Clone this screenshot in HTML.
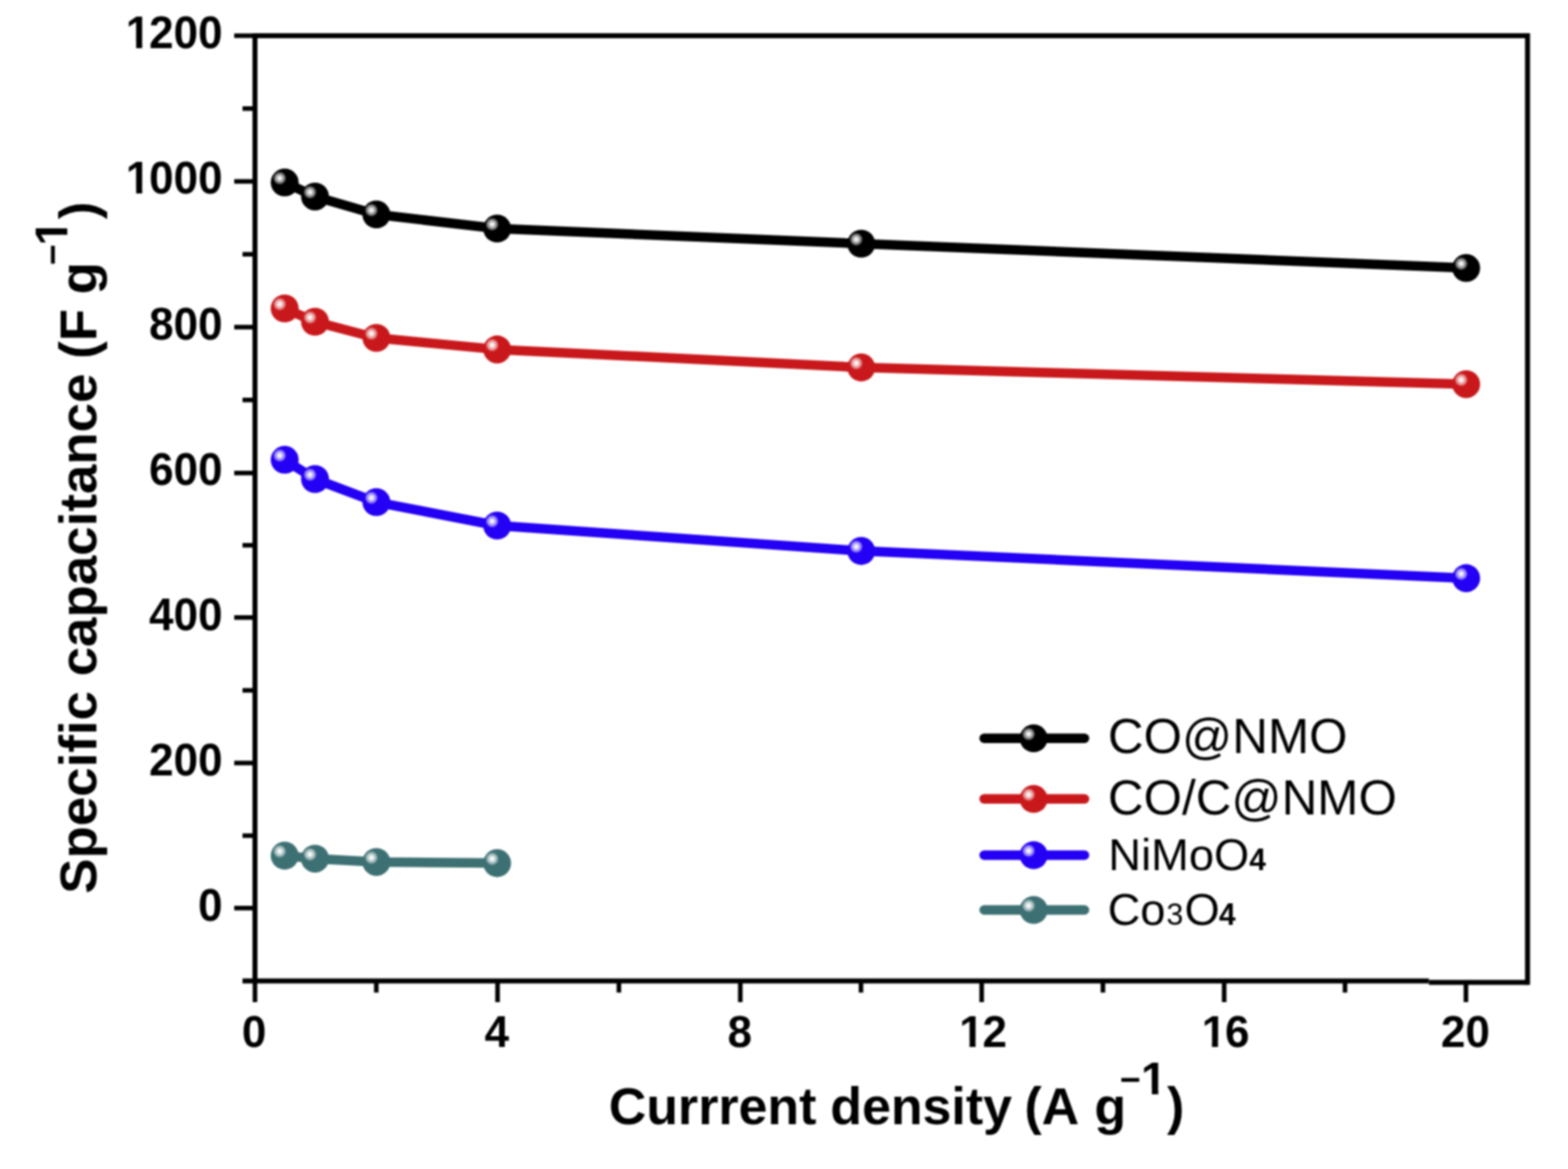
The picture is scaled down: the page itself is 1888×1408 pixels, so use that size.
<!DOCTYPE html><html><head><meta charset="utf-8"><title>Specific capacitance vs current density</title><style>html,body{margin:0;padding:0;background:#fff;width:1888px;height:1408px;overflow:hidden}svg{display:block;filter:blur(0.8px)}text{font-family:"Liberation Sans",Arial,sans-serif}</style></head><body>
<svg width="1888" height="1408" viewBox="0 0 1888 1408" xmlns="http://www.w3.org/2000/svg">
<defs>
<radialGradient id="hl"><stop offset="0" stop-color="#fff" stop-opacity="1"/><stop offset="0.25" stop-color="#fff" stop-opacity="0.92"/><stop offset="0.5" stop-color="#fff" stop-opacity="0.66"/><stop offset="0.78" stop-color="#fff" stop-opacity="0.42"/><stop offset="1" stop-color="#fff" stop-opacity="0"/></radialGradient>
</defs>
<rect width="1888" height="1408" fill="#fff"/>
<path d="M307.0 1181.6 V42.9 H1839.3 V1186.2" fill="none" stroke="#000" stroke-width="6" stroke-linejoin="miter"/>
<path d="M292 1181.6 H1720.5" stroke="#000" stroke-width="6"/>
<path d="M1720.5 1183.2 H1839.3" stroke="#000" stroke-width="6"/>
<path d="M282 1093.8H307.0 M292 1006.4H307.0 M282 919.0H307.0 M292 831.4H307.0 M282 743.8H307.0 M292 656.8H307.0 M282 569.7H307.0 M292 481.8H307.0 M282 393.9H307.0 M292 306.2H307.0 M282 218.5H307.0 M292 130.7H307.0 M282 42.9H307.0 M307.0 1181.6V1207 M453.1 1181.6V1195.5 M599.1 1181.6V1207 M745.2 1181.6V1195.5 M891.4 1181.6V1207 M1036.7 1181.6V1195.5 M1182.0 1181.6V1207 M1328.0 1181.6V1195.5 M1474.0 1181.6V1207 M1619.5 1181.6V1195.5 M1765.1 1183.2V1207" stroke="#000" stroke-width="5.5" fill="none"/>
<g transform="translate(0 -44.344) scale(1 1.04)"><text x="238.52" y="1108.60" font-size="53" font-weight="bold">0</text></g>
<g transform="translate(0 -37.352) scale(1 1.04)"><text x="179.57" y="933.80" font-size="53" font-weight="bold">200</text></g>
<g transform="translate(0 -30.344) scale(1 1.04)"><text x="179.57" y="758.60" font-size="53" font-weight="bold">400</text></g>
<g transform="translate(0 -23.380) scale(1 1.04)"><text x="179.57" y="584.50" font-size="53" font-weight="bold">600</text></g>
<g transform="translate(0 -16.348) scale(1 1.04)"><text x="179.57" y="408.70" font-size="53" font-weight="bold">800</text></g>
<g transform="translate(0 -9.332) scale(1 1.04)"><text x="151.60" y="233.30" font-size="53" font-weight="bold">1<tspan dx="-1.5">000</tspan></text><rect x="153.70" y="226.49" width="10.26" height="8.41" fill="#fff"/><rect x="171.24" y="226.49" width="9.16" height="8.41" fill="#fff"/></g>
<g transform="translate(0 -2.308) scale(1 1.04)"><text x="151.60" y="57.70" font-size="53" font-weight="bold">1<tspan dx="-1.5">200</tspan></text><rect x="153.70" y="50.89" width="10.26" height="8.41" fill="#fff"/><rect x="171.24" y="50.89" width="9.16" height="8.41" fill="#fff"/></g>
<text x="291.36" y="1261.00" font-size="53" font-weight="bold">0</text>
<text x="583.46" y="1261.00" font-size="53" font-weight="bold">4</text>
<text x="876.06" y="1261.00" font-size="53" font-weight="bold">8</text>
<text x="1155.02" y="1261.00" font-size="53" font-weight="bold">1<tspan dx="-1.5">2</tspan></text><rect x="1157.13" y="1254.19" width="10.26" height="8.41" fill="#fff"/><rect x="1174.67" y="1254.19" width="9.16" height="8.41" fill="#fff"/>
<text x="1446.92" y="1261.00" font-size="53" font-weight="bold">1<tspan dx="-1.5">6</tspan></text><rect x="1449.03" y="1254.19" width="10.26" height="8.41" fill="#fff"/><rect x="1466.57" y="1254.19" width="9.16" height="8.41" fill="#fff"/>
<text x="1735.12" y="1261.00" font-size="53" font-weight="bold">20</text>
<polyline points="342.8,219.8 379.3,236.7 453.2,258.3 598.6,275.3 1037.0,293.5 1765.4,322.8" fill="none" stroke="#000000" stroke-width="11.5" stroke-linejoin="round"/>
<circle cx="342.8" cy="219.8" r="16.8" fill="#000000"/><circle cx="336.8" cy="214.6" r="8" fill="url(#hl)" opacity="1.0"/>
<circle cx="379.3" cy="236.7" r="16.8" fill="#000000"/><circle cx="373.3" cy="231.5" r="8" fill="url(#hl)" opacity="1.0"/>
<circle cx="453.2" cy="258.3" r="16.8" fill="#000000"/><circle cx="447.2" cy="253.1" r="8" fill="url(#hl)" opacity="1.0"/>
<circle cx="598.6" cy="275.3" r="16.8" fill="#000000"/><circle cx="592.6" cy="270.1" r="8" fill="url(#hl)" opacity="1.0"/>
<circle cx="1037.0" cy="293.5" r="16.8" fill="#000000"/><circle cx="1031.0" cy="288.3" r="8" fill="url(#hl)" opacity="1.0"/>
<circle cx="1765.4" cy="322.8" r="16.8" fill="#000000"/><circle cx="1759.4" cy="317.6" r="8" fill="url(#hl)" opacity="1.0"/>
<polyline points="342.8,371.5 379.3,387.5 453.2,407.0 598.6,420.9 1037.0,442.6 1765.4,462.7" fill="none" stroke="#c9181b" stroke-width="11.5" stroke-linejoin="round"/>
<circle cx="342.8" cy="371.5" r="16.8" fill="#c9181b"/><circle cx="336.8" cy="366.3" r="8" fill="url(#hl)" opacity="1.0"/>
<circle cx="379.3" cy="387.5" r="16.8" fill="#c9181b"/><circle cx="373.3" cy="382.3" r="8" fill="url(#hl)" opacity="1.0"/>
<circle cx="453.2" cy="407.0" r="16.8" fill="#c9181b"/><circle cx="447.2" cy="401.8" r="8" fill="url(#hl)" opacity="1.0"/>
<circle cx="598.6" cy="420.9" r="16.8" fill="#c9181b"/><circle cx="592.6" cy="415.7" r="8" fill="url(#hl)" opacity="1.0"/>
<circle cx="1037.0" cy="442.6" r="16.8" fill="#c9181b"/><circle cx="1031.0" cy="437.4" r="8" fill="url(#hl)" opacity="1.0"/>
<circle cx="1765.4" cy="462.7" r="16.8" fill="#c9181b"/><circle cx="1759.4" cy="457.5" r="8" fill="url(#hl)" opacity="1.0"/>
<polyline points="342.8,553.8 379.3,577.0 453.2,604.8 598.6,633.0 1037.0,663.6 1765.4,696.4" fill="none" stroke="#2400f4" stroke-width="11.5" stroke-linejoin="round"/>
<circle cx="342.8" cy="553.8" r="16.8" fill="#2400f4"/><circle cx="336.8" cy="548.6" r="8" fill="url(#hl)" opacity="1.0"/>
<circle cx="379.3" cy="577.0" r="16.8" fill="#2400f4"/><circle cx="373.3" cy="571.8" r="8" fill="url(#hl)" opacity="1.0"/>
<circle cx="453.2" cy="604.8" r="16.8" fill="#2400f4"/><circle cx="447.2" cy="599.6" r="8" fill="url(#hl)" opacity="1.0"/>
<circle cx="598.6" cy="633.0" r="16.8" fill="#2400f4"/><circle cx="592.6" cy="627.8" r="8" fill="url(#hl)" opacity="1.0"/>
<circle cx="1037.0" cy="663.6" r="16.8" fill="#2400f4"/><circle cx="1031.0" cy="658.4" r="8" fill="url(#hl)" opacity="1.0"/>
<circle cx="1765.4" cy="696.4" r="16.8" fill="#2400f4"/><circle cx="1759.4" cy="691.2" r="8" fill="url(#hl)" opacity="1.0"/>
<polyline points="342.8,1030.6 379.3,1034.2 453.2,1038.2 598.6,1039.6" fill="none" stroke="#3d7073" stroke-width="11.5" stroke-linejoin="round"/>
<circle cx="342.8" cy="1030.6" r="16.8" fill="#3d7073"/><circle cx="336.8" cy="1025.4" r="8" fill="url(#hl)" opacity="1.0"/>
<circle cx="379.3" cy="1034.2" r="16.8" fill="#3d7073"/><circle cx="373.3" cy="1029.0" r="8" fill="url(#hl)" opacity="1.0"/>
<circle cx="453.2" cy="1038.2" r="16.8" fill="#3d7073"/><circle cx="447.2" cy="1033.0" r="8" fill="url(#hl)" opacity="1.0"/>
<circle cx="598.6" cy="1039.6" r="16.8" fill="#3d7073"/><circle cx="592.6" cy="1034.4" r="8" fill="url(#hl)" opacity="1.0"/>
<line x1="1185.0" y1="889.3" x2="1305.8" y2="889.3" stroke="#000000" stroke-width="11.5" stroke-linecap="round"/>
<circle cx="1244.6" cy="889.3" r="16.8" fill="#000000"/><circle cx="1238.6" cy="884.1" r="8" fill="url(#hl)" opacity="1.0"/>
<line x1="1185.0" y1="962.3" x2="1305.8" y2="962.3" stroke="#c9181b" stroke-width="11.5" stroke-linecap="round"/>
<circle cx="1244.6" cy="962.3" r="16.8" fill="#c9181b"/><circle cx="1238.6" cy="957.1" r="8" fill="url(#hl)" opacity="1.0"/>
<line x1="1185.0" y1="1030.0" x2="1305.8" y2="1030.0" stroke="#2400f4" stroke-width="11.5" stroke-linecap="round"/>
<circle cx="1244.6" cy="1030.0" r="16.8" fill="#2400f4"/><circle cx="1238.6" cy="1024.8" r="8" fill="url(#hl)" opacity="1.0"/>
<line x1="1185.0" y1="1096.0" x2="1305.8" y2="1096.0" stroke="#3d7073" stroke-width="11.5" stroke-linecap="round"/>
<circle cx="1244.6" cy="1096.0" r="16.8" fill="#3d7073"/><circle cx="1238.6" cy="1090.8" r="8" fill="url(#hl)" opacity="1.0"/>
<text x="1334.1" y="907.4" font-size="59.5">CO@NMO</text>
<text x="1334.0" y="980.8" font-size="59.5">CO/C@NMO</text>
<text x="1334.6" y="1047.7" font-size="54.5">NiMoO<tspan font-size="36" font-weight="bold">4</tspan></text>
<text x="1333.7" y="1114.4" font-size="54.5">Co<tspan font-size="36.5" dx="1.2">3</tspan><tspan dx="1.3">O</tspan><tspan font-size="36" font-weight="bold" dx="-0.8">4</tspan></text>
<text y="1353.6" font-size="62.5" font-weight="bold"><tspan x="733.04">Currrent</tspan> <tspan x="999.74">density</tspan> <tspan x="1233.49">(A</tspan> <tspan x="1317.64">g</tspan><tspan x="1348.22" y="1315.10" font-size="43">−</tspan><tspan x="1373.87" y="1318.10" font-size="56">1</tspan><tspan x="1405.24" y="1353.6">)</tspan></text>
<rect x="1376.15" y="1310.99" width="10.79" height="8.71" fill="#fff"/><rect x="1394.63" y="1310.99" width="9.33" height="8.71" fill="#fff"/>
<g transform="translate(115.6 1076.5) rotate(-90)">
<text y="0" font-size="63.7" font-weight="bold"><tspan x="0">Specific capacitance (F g</tspan><tspan x="757.02" y="-37.30" font-size="43">−</tspan><tspan x="780.67" y="-35.1" font-size="56">1</tspan><tspan x="812.64" y="0">)</tspan></text>
<rect x="782.95" y="-42.21" width="10.79" height="8.71" fill="#fff"/><rect x="801.43" y="-42.21" width="9.33" height="8.71" fill="#fff"/>
</g>
</svg></body></html>
